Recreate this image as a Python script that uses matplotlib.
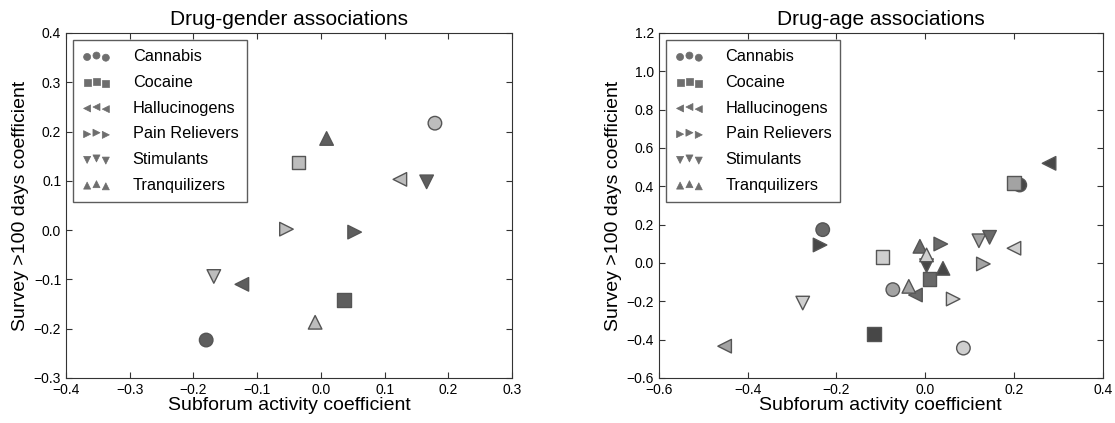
#!/usr/bin/env python3
"""Drug-gender / drug-age association scatter, survey vs subforum coefficients."""
import matplotlib
matplotlib.use("Agg")
import matplotlib.pyplot as plt

plt.rcParams["font.family"] = ["Liberation Sans", "DejaVu Sans"]

drugs = ["Cannabis", "Cocaine", "Hallucinogens", "Pain Relievers", "Stimulants", "Tranquilizers"]
markers = ["o", "s", "<", ">", "v", "^"]

# gender plot: two points per drug (shade index 0=dark, 1=light)
gender_x = [[0.179, -0.180], [-0.035, 0.036], [0.124, -0.124],
            [-0.054, 0.053], [0.166, -0.168], [0.009, -0.009]]
gender_y = [[0.217, -0.223], [0.137, -0.142], [0.103, -0.110],
            [0.002, -0.004], [0.098, -0.094], [0.186, -0.187]]
gender_shade = [[1, 0], [1, 0], [1, 0], [1, 0], [0, 1], [0, 1]]
gender_colors = ["#5e5e5e", "#bdbdbd"]

# age plot: four points per drug
age_x = [[-0.231, -0.073, 0.086, 0.213],
         [-0.096, -0.115, 0.010, 0.200],
         [-0.452, -0.022, 0.200, 0.279],
         [-0.237, 0.035, 0.063, 0.131],
         [-0.276, 0.003, 0.121, 0.145],
         [-0.012, 0.003, 0.040, -0.037]]
age_y = [[0.174, -0.139, -0.444, 0.407],
         [0.030, -0.371, -0.084, 0.418],
         [-0.434, -0.167, 0.077, 0.520],
         [0.094, 0.099, -0.188, -0.005],
         [-0.209, -0.014, 0.116, 0.134],
         [0.087, 0.042, -0.028, -0.122]]
age_shade = [[1, 2, 3, 0],
             [3, 0, 1, 2],
             [2, 1, 3, 0],
             [0, 1, 3, 2],
             [3, 0, 2, 1],
             [1, 3, 0, 2]]
age_colors = ["#474747", "#696969", "#a3a3a3", "#cfcfcf"]


def draw(ax, xs, ys, shades, colors, title, xlim, ylim):
    for i, m in enumerate(markers):
        cols = [colors[s] for s in shades[i]]
        ax.scatter(xs[i], ys[i], marker=m, s=95, c=cols, edgecolors="#555555",
                   linewidths=1.0, zorder=3)
    handles = [ax.scatter([], [], marker=m, s=95, c="#6e6e6e", edgecolors="#6e6e6e",
                          linewidths=0.5, label=d)
               for d, m in zip(drugs, markers)]
    leg = ax.legend(handles=handles, loc="upper left", scatterpoints=3,
                    scatteryoffsets=[0.375, 0.5, 0.3125], markerscale=0.52,
                    fontsize=11.7, fancybox=False, labelspacing=0.66,
                    borderpad=0.55, handletextpad=1.35, handlelength=1.75,
                    borderaxespad=0.45)
    leg.get_frame().set_edgecolor("#333333")
    leg.get_frame().set_linewidth(1.0)
    ax.set_xlim(*xlim)
    ax.set_ylim(*ylim)
    ax.set_title(title, fontsize=15, pad=6)
    ax.set_xlabel("Subforum activity coefficient", fontsize=14, labelpad=0)
    ax.set_ylabel("Survey >100 days coefficient", fontsize=14, labelpad=3)
    ax.tick_params(direction="in", top=True, right=True, labelsize=10,
                   length=4, color="#333333")
    for sp in ax.spines.values():
        sp.set_color("#333333")


fig = plt.figure(figsize=(11.15, 4.23), dpi=100)
ax1 = fig.add_axes([0.0592, 0.1064, 0.400, 0.8156])
ax2 = fig.add_axes([0.591, 0.1064, 0.398, 0.8156])

draw(ax1, gender_x, gender_y, gender_shade, gender_colors,
     "Drug-gender associations", (-0.4, 0.3), (-0.3, 0.4))
ax1.set_xticks([-0.4, -0.3, -0.2, -0.1, 0.0, 0.1, 0.2, 0.3])
ax1.set_yticks([-0.3, -0.2, -0.1, 0.0, 0.1, 0.2, 0.3, 0.4])

draw(ax2, age_x, age_y, age_shade, age_colors,
     "Drug-age associations", (-0.6, 0.4), (-0.6, 1.2))
ax2.set_xticks([-0.6, -0.4, -0.2, 0.0, 0.2, 0.4])
ax2.set_yticks([-0.6, -0.4, -0.2, 0.0, 0.2, 0.4, 0.6, 0.8, 1.0, 1.2])

fig.savefig("out.png", dpi=100)
